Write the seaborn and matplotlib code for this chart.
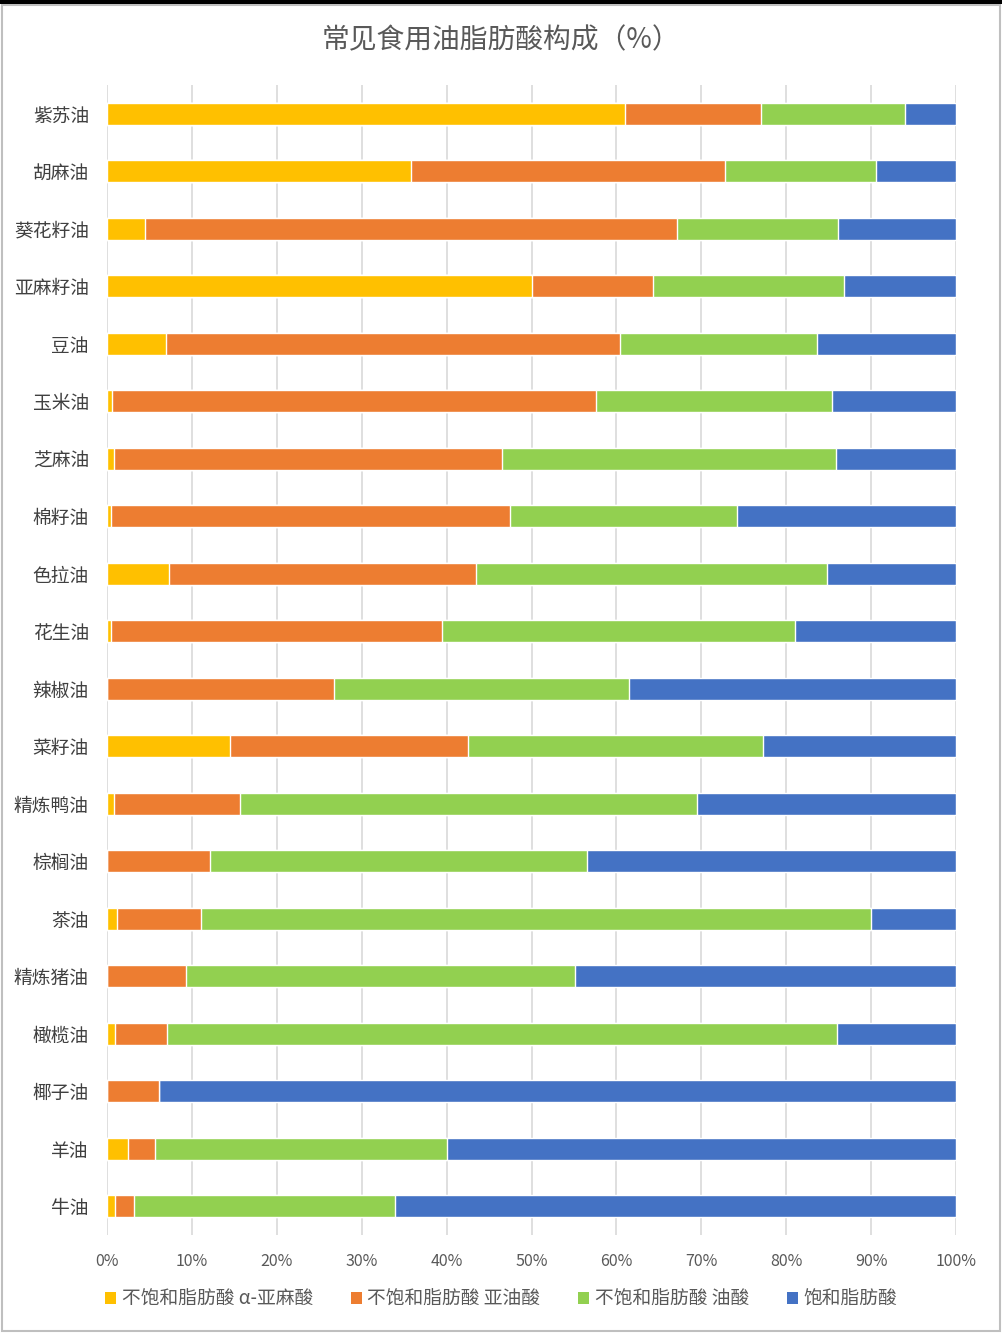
import matplotlib
matplotlib.use("Agg")
import matplotlib.pyplot as plt
import seaborn as sns
import pandas as pd
import numpy as np
from matplotlib.patches import Patch, Rectangle

oils = ["紫苏油", "胡麻油", "葵花籽油", "亚麻籽油", "豆油", "玉米油", "芝麻油", "棉籽油",
        "色拉油", "花生油", "辣椒油", "菜籽油", "精炼鸭油", "棕榈油", "茶油", "精炼猪油",
        "橄榄油", "椰子油", "羊油", "牛油"]
# 不饱和脂肪酸 α-亚麻酸
alpha_linolenic = [61.0, 35.8, 4.5, 50.1, 6.9, 0.6, 0.8, 0.5, 7.3, 0.5,
                   0.0, 14.5, 0.8, 0.0, 1.2, 0.0, 1.0, 0.0, 2.5, 1.0]
# 不饱和脂肪酸 亚油酸
linoleic = [16.0, 37.0, 62.6, 14.2, 53.5, 57.0, 45.7, 47.0, 36.2, 39.0,
            26.7, 28.0, 14.9, 12.1, 9.9, 9.3, 6.1, 6.1, 3.1, 2.2]
# 不饱和脂肪酸 油酸
oleic = [17.0, 17.8, 19.0, 22.5, 23.2, 27.8, 39.4, 26.7, 41.3, 41.5,
         34.8, 34.8, 53.8, 44.4, 78.9, 45.8, 78.9, 0.0, 34.4, 30.7]
labels = ["不饱和脂肪酸 α-亚麻酸", "不饱和脂肪酸 亚油酸", "不饱和脂肪酸 油酸", "饱和脂肪酸"]
colors = ["#FFC000", "#ED7D31", "#92D050", "#4472C4"]

df = pd.DataFrame({"oil": oils, "a": alpha_linolenic, "l": linoleic, "o": oleic})
df["sat"] = 100 - df["a"] - df["l"] - df["o"]
df["c1"] = df["a"]
df["c2"] = df["c1"] + df["l"]
df["c3"] = df["c2"] + df["o"]
df["c4"] = df["c3"] + df["sat"]

sns.set_theme(style="white")
plt.rcParams["font.family"] = ["Noto Sans CJK SC", "DejaVu Sans"]

fig = plt.figure(figsize=(10.02, 13.34), dpi=100)
ax = fig.add_axes([107 / 1002, 1 - 1235 / 1334, (956 - 107) / 1002, (1235 - 85) / 1334])

# stacked bars by overlaying cumulative totals
for col, c in zip(["c4", "c3", "c2", "c1"], colors[::-1]):
    sns.barplot(data=df, x=col, y="oil", orient="h", color=c, width=0.39,
                saturation=1, ax=ax, zorder=3)

ax.set_xlim(0, 100)
ax.set_xticks(np.arange(0, 101, 10))
ax.set_xticklabels([f"{v}%" for v in range(0, 101, 10)], fontsize=11.5, color="#595959")
ax.tick_params(axis="y", labelsize=13.5, labelcolor="#404040", length=0, pad=13)
ax.tick_params(axis="x", length=0, pad=13)
ax.set_xlabel("")
ax.set_ylabel("")
ax.grid(axis="x", color="#D9D9D9", linewidth=1.2, zorder=0)
for s in ax.spines.values():
    s.set_visible(False)

fig.text(0.5, 1 - 40 / 1334, "常见食用油脂肪酸构成（%）", ha="center", va="center",
         fontsize=20, color="#595959")

handles = [Patch(facecolor=c, edgecolor="none") for c in colors]
fig.legend(handles, labels, loc="center", bbox_to_anchor=(0.5, 1 - 1299 / 1334), ncol=4,
           frameon=False, fontsize=13.5, handlelength=0.6, handleheight=0.6,
           handletextpad=0.3, columnspacing=2.0, labelcolor="#595959")

# image frame
fig.patches.append(Rectangle((0.002, 0.002), 0.996, 0.994, transform=fig.transFigure,
                             fill=False, edgecolor="#BFBFBF", linewidth=1.5))
fig.patches.append(Rectangle((0, 1 - 4 / 1334), 1, 4 / 1334, transform=fig.transFigure,
                             facecolor="black", edgecolor="none"))

fig.savefig("out.png", dpi=100)
